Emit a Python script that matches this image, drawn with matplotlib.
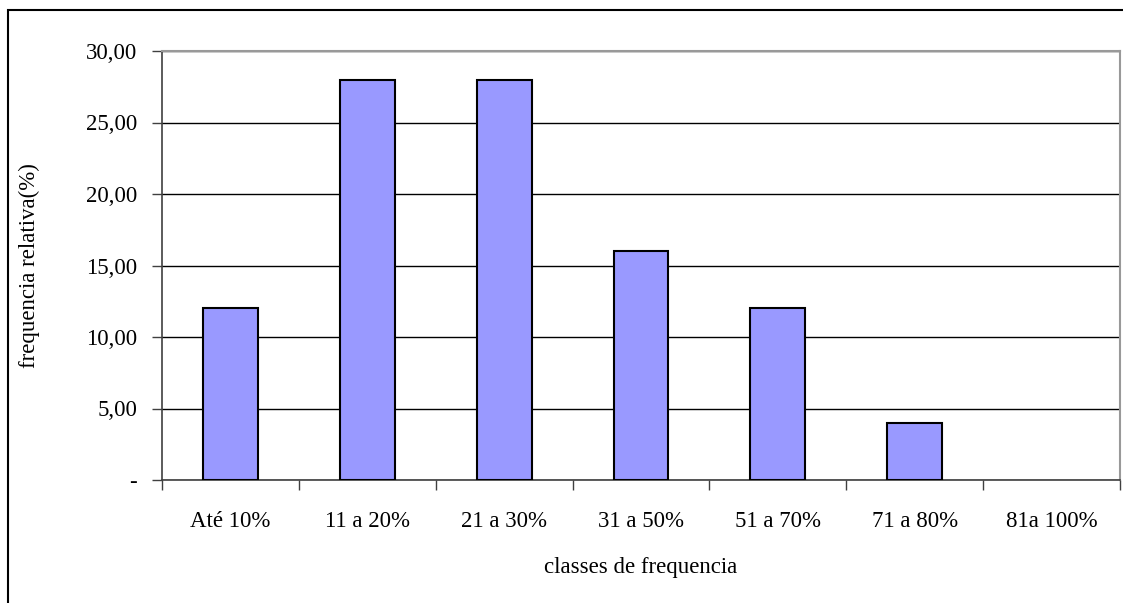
import numpy as np
import matplotlib.pyplot as plt
from matplotlib.patches import Rectangle

plt.rcParams['font.family'] = ['Liberation Serif', 'DejaVu Serif']

classes = ["Até 10%", "11 a 20%", "21 a 30%", "31 a 50%", "51 a 70%", "71 a 80%", "81a 100%"]
freq_rel = [12, 28, 28, 16, 12, 4, 0]
y_ticks = [0, 5, 10, 15, 20, 25, 30]
y_labels = ["-", "5,00", "10,00", "15,00", "20,00", "25,00", "30,00"]

W, H = 1123, 603
fs = 16.5
fig = plt.figure(figsize=(W / 100, H / 100), dpi=100)

# outer chart border (runs off the right and bottom edges)
fig.patches.append(Rectangle((8 / W, -0.1), 1.2, 1 - 10 / H + 0.1,
                             transform=fig.transFigure, fill=False,
                             edgecolor="black", linewidth=1.5))

left, right, top, bottom = 162, 1120, 51, 480
ax = fig.add_axes([left / W, 1 - bottom / H, (right - left) / W, (bottom - top) / H])

x = np.arange(len(classes))
bars = ax.bar(x, freq_rel, width=0.4, color="#9999FF", edgecolor="black", linewidth=1.5, zorder=3)
for b, v in zip(bars, freq_rel):
    if v == 0:
        b.set_linewidth(0)

ax.set_xlim(-0.5, len(classes) - 0.5)
ax.set_ylim(0, 30)
ax.set_yticks(y_ticks)
ax.set_yticklabels(y_labels, fontsize=fs)
ax.yaxis.grid(True, color="black", linewidth=1)
ax.set_axisbelow(True)

ax.set_xticks(x)
ax.set_xticklabels(classes, fontsize=fs)
ax.set_xticks(np.arange(len(classes) + 1) - 0.5, minor=True)
ax.tick_params(axis="x", which="major", length=0, pad=22)
ax.tick_params(axis="x", which="minor", length=7, width=1, color="#404040")
ax.tick_params(axis="y", length=7, width=1, pad=11, color="#404040")

for side in ("top", "right"):
    ax.spines[side].set_color("#999999")
    ax.spines[side].set_linewidth(1.5)
ax.spines["left"].set_color("#404040")
ax.spines["bottom"].set_color("#404040")
ax.spines["left"].set_linewidth(1.2)
ax.spines["bottom"].set_linewidth(1.2)

ax.set_xlabel("classes de frequencia", fontsize=fs, labelpad=18)
ax.set_ylabel("frequencia relativa(%)", fontsize=fs, labelpad=33)

fig.savefig("out.png", dpi=100, facecolor="white")
